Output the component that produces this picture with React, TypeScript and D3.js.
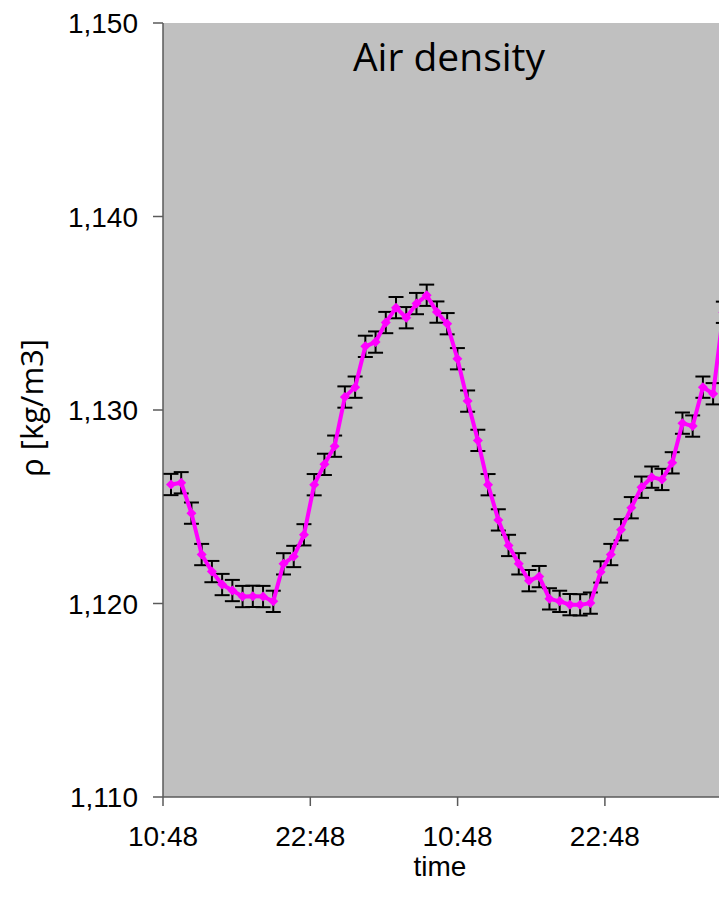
import React, { useRef, useEffect } from "react";
import * as d3 from "d3";

// x axis: hours after the first label (10:48), one label every 12 h
const tickHours = [0, 12, 24, 36];
const tickLabels = ["10:48", "22:48", "10:48", "22:48"];
const yTicks = [1110, 1120, 1130, 1140, 1150];

// samples every 50 min, the first one ~39 min after 10:48
const firstSampleHours = 0.65;
const sampleStepHours = 50 / 60;

// air density [kg/m3]
const density = [
  1126.15, 1126.24, 1124.67, 1122.53, 1121.65, 1120.98, 1120.67, 1120.36, 1120.37, 1120.36,
  1120.11, 1122.05, 1122.43, 1123.55, 1126.14, 1127.19, 1128.13, 1130.67, 1131.18, 1133.29,
  1133.51, 1134.52, 1135.29, 1134.77, 1135.5, 1135.93, 1135.06, 1134.46, 1132.65, 1130.46,
  1128.43, 1126.14, 1124.32, 1123.0, 1122.05, 1121.18, 1121.39, 1120.24, 1120.11, 1119.94,
  1119.93, 1120.02, 1121.63, 1122.53, 1123.81, 1124.95, 1126.01, 1126.53, 1126.41, 1127.27,
  1129.32, 1129.17, 1131.18, 1130.84, 1135.05,
];
const errorMargin = 0.55;

const W = 719;
const H = 903;

const App: React.FC = () => {
  const svgRef = useRef<SVGSVGElement>(null);

  useEffect(() => {
    if (!svgRef.current) return;
    const svg = d3.select(svgRef.current);
    svg.selectAll("*").remove();

    const left = 163;
    const top = 23;
    const bottom = 797;
    const pxPer12h = 147.3;

    const x = d3.scaleLinear().domain([0, 60]).range([left, left + pxPer12h * 5]);
    const y = d3.scaleLinear().domain([1110, 1150]).range([bottom, top]);

    const data = density.map((v, i) => ({
      t: firstSampleHours + i * sampleStepHours,
      v,
    }));

    svg
      .append("rect")
      .attr("x", left)
      .attr("y", top)
      .attr("width", x(60) - left)
      .attr("height", bottom - top)
      .attr("fill", "#C0C0C0");

    // axes
    const axisColor = "#5a5a5a";
    svg.append("line")
      .attr("x1", left).attr("x2", left)
      .attr("y1", top).attr("y2", bottom)
      .attr("stroke", axisColor).attr("stroke-width", 1.5);
    svg.append("line")
      .attr("x1", left).attr("x2", W)
      .attr("y1", bottom).attr("y2", bottom)
      .attr("stroke", axisColor).attr("stroke-width", 1.5);

    const fmt = d3.format(",");
    svg.selectAll(".ytick")
      .data(yTicks)
      .join("line")
      .attr("x1", left - 10).attr("x2", left)
      .attr("y1", (d) => y(d)).attr("y2", (d) => y(d))
      .attr("stroke", axisColor).attr("stroke-width", 1.5);
    svg.selectAll(".ylab")
      .data(yTicks)
      .join("text")
      .attr("x", 138)
      .attr("y", (d) => y(d))
      .attr("dy", "0.36em")
      .attr("text-anchor", "end")
      .attr("font-family", "Liberation Sans, Arial, sans-serif")
      .attr("font-size", 28)
      .attr("fill", "#000")
      .text((d) => fmt(d));

    svg.selectAll(".xtick")
      .data(tickHours)
      .join("line")
      .attr("x1", (d) => x(d)).attr("x2", (d) => x(d))
      .attr("y1", bottom).attr("y2", bottom + 9)
      .attr("stroke", axisColor).attr("stroke-width", 1.5);
    svg.selectAll(".xlab")
      .data(tickHours)
      .join("text")
      .attr("x", (d) => x(d))
      .attr("y", 846)
      .attr("text-anchor", "middle")
      .attr("font-family", "Liberation Sans, Arial, sans-serif")
      .attr("font-size", 28)
      .attr("fill", "#000")
      .text((_, i) => tickLabels[i]);

    svg.append("text")
      .attr("x", 440)
      .attr("y", 876)
      .attr("text-anchor", "middle")
      .attr("font-family", "Liberation Sans, Arial, sans-serif")
      .attr("font-size", 28)
      .text("time");

    svg.append("text")
      .attr("transform", `translate(43, 408) rotate(-90)`)
      .attr("text-anchor", "middle")
      .attr("font-family", "Open Sans, Noto Sans, sans-serif")
      .attr("font-size", 31)
      .text("ρ [kg/m3]");

    svg.append("text")
      .attr("x", 449)
      .attr("y", 71)
      .attr("text-anchor", "middle")
      .attr("font-family", "Open Sans, Noto Sans, sans-serif")
      .attr("font-size", 39)
      .text("Air density");

    // error bars
    const cap = 7.5;
    const eb = svg.append("g").attr("stroke", "#000").attr("stroke-width", 2);
    data.forEach((d) => {
      const cx = x(d.t);
      const y1 = y(d.v + errorMargin);
      const y0 = y(d.v - errorMargin);
      eb.append("line").attr("x1", cx).attr("x2", cx).attr("y1", y1).attr("y2", y0);
      eb.append("line").attr("x1", cx - cap).attr("x2", cx + cap).attr("y1", y1).attr("y2", y1);
      eb.append("line").attr("x1", cx - cap).attr("x2", cx + cap).attr("y1", y0).attr("y2", y0);
    });

    const line = d3
      .line<{ t: number; v: number }>()
      .x((d) => x(d.t))
      .y((d) => y(d.v));

    svg.append("path")
      .datum(data)
      .attr("fill", "none")
      .attr("stroke", "#FF00FF")
      .attr("stroke-width", 4)
      .attr("stroke-linejoin", "round")
      .attr("d", line);

    const marker = d3.symbol(d3.symbolSquare, 50)();
    svg.selectAll(".pt")
      .data(data)
      .join("path")
      .attr("d", marker)
      .attr("transform", (d) => `translate(${x(d.t)},${y(d.v)}) rotate(45)`)
      .attr("fill", "#FF00FF");
  }, []);

  return (
    <svg
      ref={svgRef}
      width={W}
      height={H}
      style={{ position: "absolute", left: 0, top: 0, background: "#fff" }}
    />
  );
};

export default App;
